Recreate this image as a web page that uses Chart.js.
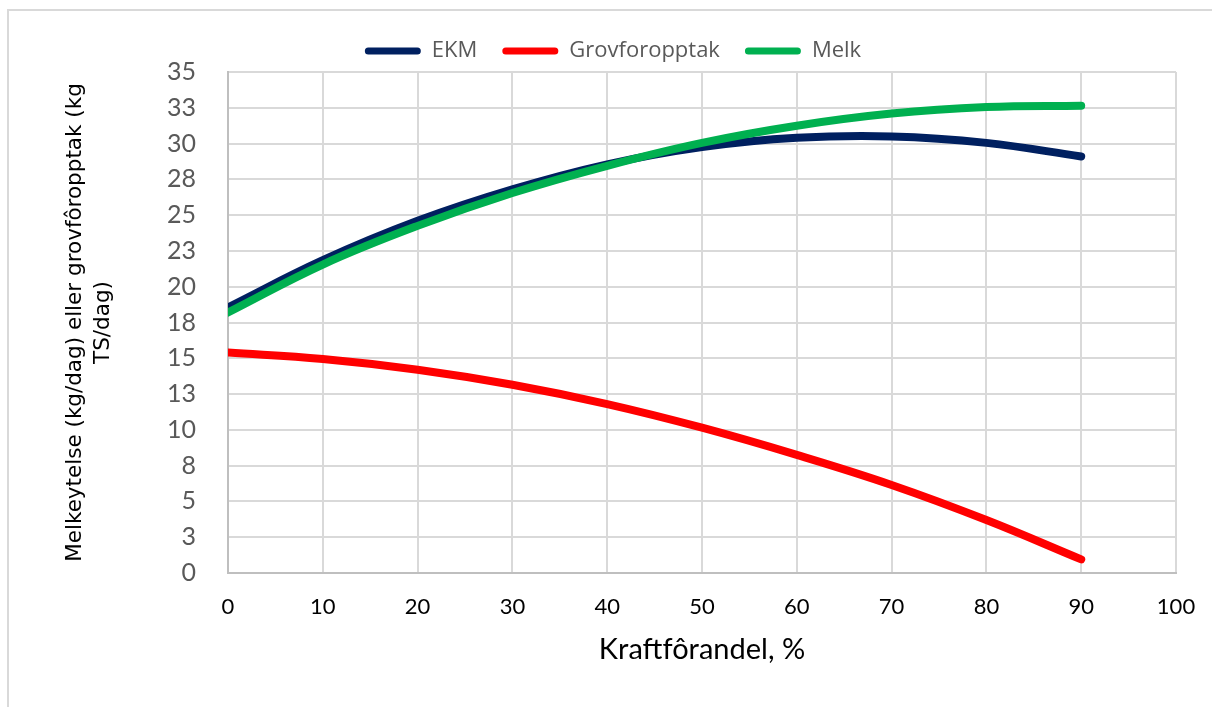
<!DOCTYPE html>
<html>
<head>
<meta charset="utf-8">
<script src="https://cdn.jsdelivr.net/npm/chart.js@4.4.1/dist/chart.umd.min.js"></script>
<style>
  html, body { margin: 0; padding: 0; background: #fff; }
  #wrap { position: relative; width: 1212px; height: 707px; overflow: hidden; }
  #frame { position: absolute; left: 7px; top: 9px; width: 1230px; height: 720px; border: 2px solid #d9d9d9; box-sizing: border-box; }
  canvas { position: absolute; left: 0; top: 0; }
</style>
</head>
<body>
<div id="wrap">
  <div id="frame"></div>
  <canvas id="chart" width="1212" height="707"></canvas>
</div>
<script>
// kraftfôrandel (%) og verdier lest av figuren
const kraftforandel = [0, 10, 20, 30, 40, 50, 60, 70, 80, 90];
const ekm  = [18.55, 21.85, 24.6, 26.8, 28.55, 29.75, 30.4, 30.5, 30.05, 29.1];
const grov = [15.4, 14.95, 14.2, 13.15, 11.8, 10.15, 8.25, 6.15, 3.7, 0.95];
const melk = [18.2, 21.55, 24.25, 26.55, 28.45, 30.05, 31.25, 32.1, 32.55, 32.65];

const seriesNames = ["EKM", "Grovforopptak", "Melk"];
const yTitle = ["Melkeytelse (kg/dag) eller grovfôropptak (kg", "TS/dag)"];
const xTitle = "Kraftfôrandel, %";

function points(values) {
  return values.map((v, i) => ({ x: kraftforandel[i], y: v }));
}

const canvas = document.querySelector('#chart');

new Chart(canvas.getContext("2d"), {
  type: "line",
  data: {
    datasets: [
      { label: seriesNames[0], data: points(ekm),  borderColor: "#002060", backgroundColor: "#002060", order: 2 },
      { label: seriesNames[1], data: points(grov), borderColor: "#ff0000", backgroundColor: "#ff0000", order: 1 },
      { label: seriesNames[2], data: points(melk), borderColor: "#00b050", backgroundColor: "#00b050", order: 0 },
    ],
  },
  options: {
    responsive: false,
    animation: false,
    layout: { padding: { top: 15, right: 36, left: 50, bottom: 0 } },
    elements: {
      line: { borderWidth: 8, tension: 0.4, borderCapStyle: "round", fill: false },
      point: { radius: 0, hoverRadius: 0 },
    },
    plugins: {
      tooltip: { enabled: false },
      legend: {
        position: "top",
        labels: {
          boxWidth: 56,
          boxHeight: 7,
          useBorderRadius: true,
          borderRadius: 3.5,
          padding: 25,
          color: "#595959",
          font: { family: "'Open Sans'", size: 22 },
          sort: (a, b) => a.datasetIndex - b.datasetIndex,
          generateLabels(chart) {
            const items = Chart.defaults.plugins.legend.labels.generateLabels(chart);
            items.forEach((it) => { it.fillStyle = it.strokeStyle; it.lineWidth = 0; });
            return items;
          },
        },
      },
    },
    scales: {
      x: {
        type: "linear",
        min: 0,
        max: 100,
        afterFit(scale) {
          scale.height = 134;
          scale.paddingRight = 0; // let layout padding decide the right edge
        },
        ticks: {
          stepSize: 10,
          padding: 21,
          color: "#000",
          font: { family: "Lato", size: 22 },
        },
        grid: { color: "#d9d9d9", lineWidth: 2, drawTicks: false },
        border: { color: "#bfbfbf", width: 2 },
        title: {
          display: true,
          text: xTitle,
          color: "#000",
          font: { family: "Lato", size: 29 },
          padding: { top: 0, bottom: 40 },
        },
      },
      y: {
        min: 0,
        max: 35,
        afterFit(scale) { scale.width = 178; },
        ticks: {
          stepSize: 2.5,
          padding: 32,
          color: "#595959",
          font: { family: "Lato", size: 25 },
          callback: (value) => Math.round(value),
        },
        grid: { color: "#d9d9d9", lineWidth: 2, drawTicks: false },
        border: { color: "#bfbfbf", width: 2 },
        title: {
          display: true,
          text: yTitle,
          color: "#000",
          font: { family: "'DejaVu Sans'", size: 21.5, lineHeight: 1.3 },
          padding: { top: 11, bottom: 0 },
        },
      },
    },
  },
});
</script>
</body>
</html>
